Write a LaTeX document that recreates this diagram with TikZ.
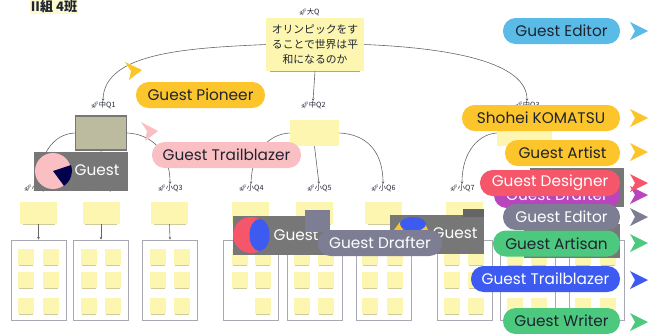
\documentclass[tikz,border=0pt]{standalone}
\usepackage{fontspec}
\setmainfont{Poppins}
\newfontfamily\cjk{Noto Sans CJK JP}
\newfontfamily\emo{Noto Emoji}
\definecolor{sticky}{HTML}{FDF6B0}
\definecolor{stickyline}{HTML}{CFCB9C}
\definecolor{framecol}{HTML}{A9A9B4}
\definecolor{veil}{HTML}{777777}
\definecolor{coverfill}{HTML}{BDBB9F}
\definecolor{cYellow}{HTML}{FCC52B}
\definecolor{cSky}{HTML}{5ABBE6}
\definecolor{cPink}{HTML}{F9BFC3}
\definecolor{cRed}{HTML}{F5566A}
\definecolor{cMag}{HTML}{B945BE}
\definecolor{cGray}{HTML}{7D7E94}
\definecolor{cGreen}{HTML}{4CC97E}
\definecolor{cBlue}{HTML}{3D5BF0}
\definecolor{ink}{HTML}{1E2430}
\tikzset{
  pill/.style n args={3}{fill=#1,text=#2,minimum width=#3*0.75pt,minimum height=19.5pt,rounded corners=9.5pt,inner sep=0pt,font=\fontsize{11.5}{12}\selectfont},
  qlabel/.style={font=\fontsize{5.4}{6}\selectfont\cjk,text=ink,inner sep=0pt},
  link/.style={draw=black!60,line width=0.45pt},
  linkarrow/.style={link,-{Stealth[length=2pt,width=2pt]}},
  framebox/.style={draw=framecol,line width=0.7pt,fill=white,inner sep=0pt,minimum width=55*0.75pt,minimum height=80*0.75pt},
  veilbox/.style={fill=veil,inner sep=0pt},
  veiltext/.style={text=white,font=\fontsize{11.5}{12}\selectfont,inner sep=0pt},
}
\usetikzlibrary{arrows.meta}
\newcommand{\smallnote}[3]{%
  \fill[sticky] (#1,#2) rectangle ++(16,16);
  \draw[stickyline,line width=0.4pt] ({#1+1},{#2+16}) -- ++(14,0);
}
\newcommand{\rc}[2]{\fill[#2] (630,{#1-9}) -- (648,#1) -- (630,{#1+9}) -- (635,#1) -- cycle;}
\newcommand{\qlab}[3]{\node[qlabel] (#1) at #2 {{\emo\fontsize{5}{5}\selectfont 🚀}#3};}
\begin{document}
\begin{tikzpicture}[x=0.75pt,y=-0.75pt]
\useasboundingbox (0,0) rectangle (648,333);
\clip (0,0) rectangle (648,333);

% title
\node[fill=sticky!60,inner sep=1pt,font=\fontsize{9.8}{11}\selectfont\cjk\bfseries,text=ink] (title) at (54,6.5) {II組 4班};

% labels
\qlab{lroot}{(309,12)}{大Q}
\qlab{lq1}{(103,105)}{中Q1}
\qlab{lq2}{(313,105)}{中Q2}
\qlab{lq3}{(527,105)}{中Q3}
\qlab{ls1}{(36,188)}{小Q1}
\qlab{ls2}{(103,188)}{小Q2}
\qlab{ls3}{(170,188)}{小Q3}
\qlab{ls4}{(251,188)}{小Q4}
\qlab{ls5}{(319,188)}{小Q5}
\qlab{ls6}{(383,188)}{小Q6}
\qlab{ls7}{(462,188)}{小Q7}

% notes
\node[fill=sticky,inner sep=0pt,minimum width=98*0.75pt,minimum height=53*0.75pt,align=center,font=\fontsize{8.1}{11.25}\selectfont\cjk,text=ink] (root) at (315,44.5) {オリンピックをす\\ることで世界は平\\和になるのか};
\draw[black!35,line width=0.8pt] (270,71.5) -- (360,71.5);
\node[fill=sticky,inner sep=0pt,minimum width=49*0.75pt,minimum height=26*0.75pt] (q2) at (314.5,133) {};
\node[fill=sticky,inner sep=0pt,minimum width=55*0.75pt,minimum height=26*0.75pt] (q3) at (524.5,133) {};
\node[fill=sticky,inner sep=0pt,minimum width=52*0.75pt,minimum height=34*0.75pt] (q1) at (101,133) {};
\foreach \n/\x in {s1/38.5,s2/101,s3/169.5,s4/250,s5/314.5,s6/383.5,s7/464}{
  \node[fill=sticky,inner sep=0pt,minimum width=37*0.75pt,minimum height=22*0.75pt] (\n) at (\x,213) {};
  \draw[stickyline,line width=0.5pt] (\x-16,224) -- (\x+16,224);
}

% frames
\foreach \n/\x in {f1/38.5,f2/101,f3/170,f4/250.5,f5/314.5,f6/383.5,f7/464.5,f8/528,f9/596.5}{
  \node[framebox] (\n) at (\x,280) {};
}

% connectors
\draw[linkarrow] (root.west) .. controls (190,48) and (104,52) .. (lq1.north);
\draw[linkarrow] (root.east) .. controls (450,48) and (527,62) .. (lq3.north);
\draw[linkarrow] (root.south) -- (lq2.north);
\draw[linkarrow] (q1.west) .. controls (55,134) and (42,150) .. (ls1.north);
\draw[linkarrow] (q1.east) .. controls (150,134) and (170,150) .. (ls3.north);
\draw[linkarrow] (q1.south) -- (ls2.north);
\draw[linkarrow] (q2.west) .. controls (270,134) and (252,150) .. (ls4.north);
\draw[linkarrow] (q2.east) .. controls (365,134) and (383,150) .. (ls6.north);
\draw[linkarrow] (q2.south) -- (ls5.north);
\draw[linkarrow] (q3.west) .. controls (480,134) and (462,150) .. (ls7.north);
\draw[linkarrow] (s1.south) -- (f1.north);
\draw[linkarrow] (s2.south) -- (f2.north);
\draw[linkarrow] (s3.south) -- (f3.north);

% stickies in the frames
\foreach \a/\b in {18/43,81/105,150/174,232/255,294/318,362/387,444/468,507/531,575/600}{
  \foreach \r in {249,272,298}{
    \smallnote{\a}{\r}{}
    \smallnote{\b}{\r}{}
  }
}
\fill[white] (230,296) rectangle (251,316);

% grey cover over Q1
\node[fill=coverfill,draw=veil,line width=0.8pt,inner sep=0pt,minimum width=51*0.75pt,minimum height=34*0.75pt] (q1cover) at (101,133) {};

% veils and avatars
\node[veilbox,minimum width=94*0.75pt,minimum height=39*0.75pt] (v1) at (80.5,171.5) {};
\node[veiltext] (t1) at (97,170) {Guest};
\fill[cPink] (53,171) circle (18);
\fill[black!70!blue] (53,171) -- (71,165) arc (-18:55:18.5) -- cycle;

\node[veilbox,minimum width=97*0.75pt,minimum height=39*0.75pt] (v2) at (281.5,235.5) {};
\node[veiltext] (t2) at (296,235) {Guest};
\fill[cRed] (251,235) circle (18);
\fill[cBlue] (259.5,235) ellipse (10 and 16);

\node[veilbox,minimum width=94*0.75pt,minimum height=39*0.75pt] (v3) at (437,234) {};
\node[veiltext] (t3) at (455,233) {Guest};
\fill[cYellow] (394,230) -- (400,222) -- (403,230) -- cycle;
\fill[cYellow] (421,230) -- (424,222) -- (428,230) -- cycle;
\fill[cBlue] (413,224) ellipse (13 and 7);
\fill[veil!85!black] (463,209) rectangle (484,217);
\fill[cGray] (305,210) rectangle (330,232);

\node[veilbox,minimum width=94*0.75pt,minimum height=39*0.75pt] (v4) at (577,187.5) {};
\node[veilbox,minimum width=96*0.75pt,minimum height=34*0.75pt] (v5) at (572,241) {};

% pills
\node[pill={cYellow}{ink}{129}] (pioneer) at (200.5,95) {Guest Pioneer};
\node[pill={cPink}{ink}{149}] (trail) at (226.5,155) {Guest Trailblazer};
\node[pill={cGray}{white}{124}] (drafter) at (380,243) {Guest Drafter};
\node[pill={cSky}{ink}{117}] (editor) at (561.5,31) {Guest Editor};
\node[pill={cYellow}{ink}{158}] (komatsu) at (541,118) {Shohei KOMATSU};
\node[pill={cYellow}{ink}{115}] (artist) at (562.5,153) {Guest Artist};
\node[pill={cMag}{white}{126}] (drafter2) at (557,195) {Guest Drafter};
\node[pill={cRed}{white}{140}] (designer) at (550,183) {Guest Designer};
\node[pill={cGray}{white}{117}] (editor2) at (561.5,217) {Guest Editor};
\node[pill={cGreen}{ink}{127}] (artisan) at (556.5,243.5) {Guest Artisan};
\node[pill={cBlue}{white}{149}] (trail2) at (545.5,279) {Guest Trailblazer};
\node[pill={cGreen}{ink}{117}] (writer) at (561.5,321) {Guest Writer};

% cursors
\fill[cYellow] (125,62) -- (142,70) -- (129,80) -- (131,71) -- cycle;
\fill[cPink] (141,122) -- (158,131) -- (145,141) -- (147,131) -- cycle;
\rc{31}{cSky}
\rc{118}{cYellow}
\rc{152}{cYellow}
\rc{195}{cMag}
\rc{183}{cRed}
\rc{217}{cGray}
\rc{243}{cGreen}
\rc{280}{cBlue}
\rc{322}{cGreen}
\end{tikzpicture}
\end{document}
